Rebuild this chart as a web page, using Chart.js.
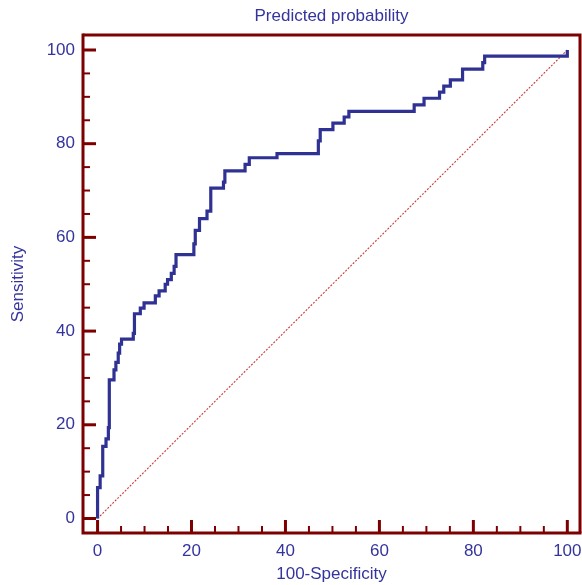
<!DOCTYPE html>
<html><head><meta charset="utf-8">
<script src="https://cdn.jsdelivr.net/npm/chart.js@4/dist/chart.umd.min.js"></script>
<style>html,body{margin:0;padding:0;background:#fff}#wrap{width:582px;height:585px}</style>
</head><body><div id="wrap"><canvas id="c" width="582" height="585"></canvas></div>
<script>
// ROC operating points: false-positive rate (100-Specificity) where each rise happens, and sensitivity reached there
const fpr = [0, 0.55, 1.1, 1.8, 2.3, 2.5, 3.5, 3.9, 4.4, 4.7, 5.1, 7.6, 7.85, 9.1, 9.9, 12.3, 13.1, 14.4, 14.9, 15.7, 16.3, 16.7, 20.5, 20.8, 21.7, 23.3, 24.1, 26.8, 27.1, 31.4, 32.3, 38.2, 47.0, 47.4, 50.1, 52.5, 53.5, 67.4, 69.5, 72.8, 73.7, 75.1, 77.7, 82.0, 82.4, 100];
const tpr = [6.6, 9.1, 15.4, 17.0, 19.4, 29.6, 31.7, 33.3, 35.3, 37.2, 38.3, 39.5, 43.7, 44.9, 46.0, 47.5, 48.6, 50.0, 51.0, 52.3, 53.8, 56.3, 58.6, 61.5, 64.0, 65.6, 70.5, 71.8, 74.2, 75.6, 77.0, 77.9, 80.6, 83.0, 84.4, 85.7, 86.9, 88.3, 89.7, 91.0, 92.3, 93.6, 95.9, 97.3, 98.7, 100];
const refX = [0, 100];
const refY = [0, 100];
const tickValues = [0, 20, 40, 60, 80, 100];
const minorTickValues = [5, 10, 15, 25, 30, 35, 45, 50, 55, 65, 70, 75, 85, 90, 95];
const chartTitle = 'Predicted probability';
const xTitle = '100-Specificity';
const yTitle = 'Sensitivity';

const textColor = '#34349c';
const lineColor = '#2f3193';
const frameColor = '#7d0000';
const font = {family: "'Liberation Sans', Arial, sans-serif", size: 17};

// staircase path built from the operating points
const rocPts = [{x: 0, y: 0}];
let prevY = 0;
for (let i = 0; i < fpr.length; i++) {
  rocPts.push({x: fpr[i], y: prevY});
  rocPts.push({x: fpr[i], y: tpr[i]});
  prevY = tpr[i];
}
const refPts = refX.map((v, i) => ({x: v, y: refY[i]}));

const framePlugin = {
  id: 'frame',
  afterDraw(chart) {
    const {ctx, chartArea: a, scales: {x, y}} = chart;
    ctx.save();
    ctx.strokeStyle = frameColor;
    ctx.lineCap = 'butt';
    // inward tick marks
    const drawTicks = (vals, len, w) => {
      ctx.lineWidth = w;
      vals.forEach(v => {
        const px = x.getPixelForValue(v);
        ctx.beginPath(); ctx.moveTo(px, a.bottom); ctx.lineTo(px, a.bottom - len); ctx.stroke();
        const py = y.getPixelForValue(v);
        ctx.beginPath(); ctx.moveTo(a.left, py); ctx.lineTo(a.left + len, py); ctx.stroke();
      });
    };
    drawTicks(minorTickValues, 7, 2);
    drawTicks(tickValues, 13, 3);
    // frame
    ctx.lineWidth = 3;
    ctx.beginPath();
    ctx.moveTo(a.left, a.top); ctx.lineTo(a.right, a.top); ctx.lineTo(a.right, a.bottom);
    ctx.stroke();
    ctx.beginPath();
    ctx.moveTo(a.left, a.top - 1.5); ctx.lineTo(a.left, a.bottom); ctx.lineTo(a.right + 1.5, a.bottom);
    ctx.stroke();
    ctx.restore();
  }
};

const noPad = s => { s.paddingLeft = 0; s.paddingRight = 0; s.paddingTop = 0; s.paddingBottom = 0; };

new Chart(document.getElementById('c'), {
  type: 'line',
  data: {
    datasets: [
      {data: refPts, borderColor: '#c83c3c', borderWidth: 1.1, borderDash: [2, 1.5], pointRadius: 0, fill: false, order: 2},
      {data: rocPts, borderColor: lineColor, borderWidth: 3.2, pointRadius: 0, fill: false, tension: 0, borderJoinStyle: 'miter', order: 1}
    ]
  },
  options: {
    responsive: false,
    animation: false,
    devicePixelRatio: 1,
    layout: {padding: {left: 0, right: 2, top: 0, bottom: 0}},
    plugins: {legend: {display: false}, tooltip: {enabled: false}, title: {display: false}},
    scales: {
      x: {
        type: 'linear', position: 'bottom', min: -3.1, max: 102.7,
        afterFit(s) { s.height = 52; noPad(s); },
        afterBuildTicks(s) { s.ticks = tickValues.map(v => ({value: v})); },
        grid: {display: false, drawTicks: false},
        border: {display: false},
        ticks: {color: textColor, font: font, padding: 8, maxRotation: 0, autoSkip: false},
        title: {display: true, text: xTitle, color: textColor, font: font, padding: {top: 0, bottom: 0}}
      },
      x2: {
        type: 'linear', position: 'top', min: -3.1, max: 102.7,
        afterFit(s) { s.height = 35; noPad(s); },
        grid: {display: false, drawTicks: false},
        border: {display: false},
        ticks: {display: false},
        title: {display: true, text: chartTitle, color: textColor, font: font, padding: {top: 6, bottom: 0}}
      },
      y: {
        type: 'linear', position: 'left', min: -3.1, max: 103.2,
        afterFit(s) { s.width = 83; noPad(s); },
        afterBuildTicks(s) { s.ticks = tickValues.map(v => ({value: v})); },
        grid: {display: false, drawTicks: false},
        border: {display: false},
        ticks: {color: textColor, font: font, padding: 8, autoSkip: false},
        title: {display: true, text: yTitle, color: textColor, font: font, padding: {top: 8, bottom: 0}}
      }
    }
  },
  plugins: [framePlugin]
});
</script>
</body></html>
